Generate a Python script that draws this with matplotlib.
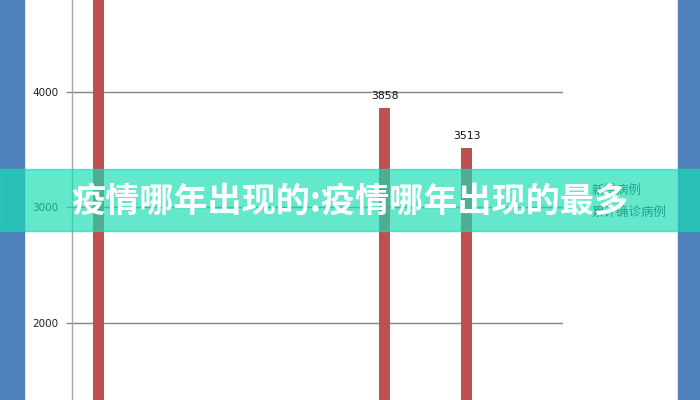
import matplotlib.pyplot as plt
from matplotlib.patches import Rectangle

plt.rcParams['font.family'] = ['Noto Sans CJK SC', 'DejaVu Sans']

# 数据（只有这几根柱子在截图里可见，其余低于可视范围）
cat_index = [0, 7, 9]
cases = [4950, 3858, 3513]
labeled = [False, True, True]
legend_labels = ['新增病例', '累计确诊病例']
title = '疫情哪年出现的:疫情哪年出现的最多'
n_cat = 12

W, H = 700, 400
fig = plt.figure(figsize=(7, 4), dpi=100)
fig.patch.set_facecolor('white')

# 坐标区：像素 x 72..563，全高
ax = fig.add_axes([72 / W, 0, (563 - 72) / W, 1])
ax.set_xlim(-0.5, n_cat - 0.5)
ax.set_ylim(1333.3, 4796.5)
ax.set_facecolor('none')

off = 6 / 40.9
ax.bar([i + off for i in cat_index], cases, width=11 / 40.9, color='#C0504D', zorder=3)
for i, v, lab in zip(cat_index, cases, labeled):
    if lab:
        ax.text(i + off, v + 110, str(v), ha='center', va='center',
                fontsize=7.8, color='#111111', family=['DejaVu Sans'])

ax.set_yticks([2000, 3000, 4000])
ax.set_yticklabels(['2000', '3000', '4000'], family=['DejaVu Sans'])
ax.yaxis.grid(True, color='#868686', linewidth=1)
ax.set_axisbelow(True)
ax.tick_params(axis='y', length=4, width=1, color='#868686', pad=5.8,
               labelsize=7.5, labelcolor='#222222')
ax.set_xticks([])
for s in ['top', 'right', 'bottom']:
    ax.spines[s].set_visible(False)
ax.spines['left'].set_color('#A6A6A6')
ax.spines['left'].set_linewidth(1)

# 图例文字（在参考图里被标题压住一部分）
for k, lab in enumerate(legend_labels):
    fig.text(591 / W, 1 - (190 + 22 * k) / H, lab, ha='left', va='center',
             fontsize=9, color='#333333')

# 两侧蓝色边条
fig.patches.append(Rectangle((0, 0), 24 / W, 1, transform=fig.transFigure,
                             color='#4F81BD', zorder=5))
fig.patches.append(Rectangle((678 / W, 0), 22 / W, 1, transform=fig.transFigure,
                             color='#4F81BD', zorder=5))

# 标题横幅
fig.patches.append(Rectangle((0, 1 - 231 / H), 1, 62 / H, transform=fig.transFigure,
                             color='#18DDB4', alpha=0.67, zorder=6))
fig.text(350 / W, 1 - 201 / H, title, ha='center', va='center', fontsize=24.6,
         fontweight='black', color='white', zorder=7)

fig.savefig('out.png', dpi=100)
